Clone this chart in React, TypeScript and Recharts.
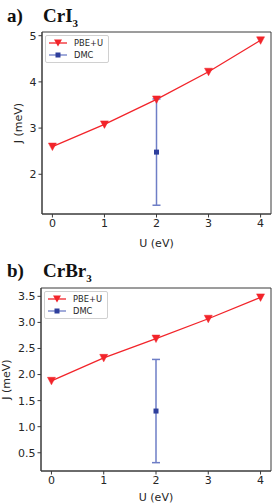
import {
  ComposedChart,
  Line,
  Scatter,
  ErrorBar,
  XAxis,
  YAxis,
  Legend,
  ReferenceArea,
} from 'recharts';

const U_VALUES = [0, 1, 2, 3, 4];
const U_DOMAIN: [number, number] = [-0.2, 4.2];

const CRI3_PBE = [2.6, 3.08, 3.62, 4.22, 4.9];
const CRI3_DMC_U = [2];
const CRI3_DMC = [2.48];
const CRI3_DMC_ERR = [1.15];
const CRI3_Y_TICKS = [2, 3, 4, 5];

const CRBR3_PBE = [1.88, 2.32, 2.69, 3.07, 3.48];
const CRBR3_DMC_U = [2];
const CRBR3_DMC = [1.3];
const CRBR3_DMC_ERR = [0.99];
const CRBR3_Y_TICKS = [0.5, 1.0, 1.5, 2.0, 2.5, 3.0, 3.5];

const RED = '#f2242a';
const BLUE = '#2e3f9c';
const BLUE_LIGHT = '#6e7ec6';
const AXIS = '#3a3a3a';
const TEXT = '#262626';
const FONT = '"DejaVu Sans", sans-serif';

function Triangle(props: any) {
  const { cx, cy } = props;
  if (cx == null || cy == null) return null;
  return (
    <polygon
      points={`${cx - 4},${cy - 3.5} ${cx + 4},${cy - 3.5} ${cx},${cy + 4}`}
      fill={RED}
      stroke={RED}
      strokeWidth={0.5}
    />
  );
}

function Square(props: any) {
  const { cx, cy } = props;
  if (cx == null || cy == null) return null;
  return <rect x={cx - 2.5} y={cy - 2.5} width={5} height={5} fill={BLUE} />;
}

function LegendBox() {
  const row = (label: string, color: string, marker: 'tri' | 'sq') => (
    <div style={{ display: 'flex', alignItems: 'center', height: 12 }}>
      <svg width={20} height={10} style={{ marginRight: 6 }}>
        <line x1={1} y1={5} x2={19} y2={5} stroke={color} strokeWidth={1.3} />
        {marker === 'tri' ? (
          <polygon points="6,1.5 14,1.5 10,8.5" fill={color} />
        ) : (
          <rect x={7.5} y={2.5} width={5} height={5} fill={BLUE} />
        )}
      </svg>
      <span>{label}</span>
    </div>
  );
  return (
    <div
      style={{
        border: '1px solid #d0d0d0',
        borderRadius: 2,
        background: '#fff',
        padding: '1px 5px 1px 2px',
        fontFamily: FONT,
        fontSize: 8.3,
        color: TEXT,
        lineHeight: 1,
      }}
    >
      {row('PBE+U', RED, 'tri')}
      {row('DMC', BLUE_LIGHT, 'sq')}
    </div>
  );
}

interface PanelProps {
  pbe: number[];
  dmcU: number[];
  dmc: number[];
  dmcErr: number[];
  yTicks: number[];
  yDomain: [number, number];
  yWidth: number;
  yLabelOffset: number;
  height: number;
  top: number;
  xHeight: number;
  legendTop: number;
  legendLeft: number;
  fmt?: (v: number) => string;
}

function Panel(p: PanelProps) {
  const pbeData = U_VALUES.map((u, i) => ({ u, j: p.pbe[i] }));
  const dmcData = p.dmcU.map((u, i) => ({ u, j: p.dmc[i], err: p.dmcErr[i] }));
  const tickStyle = { fontSize: 11, fill: TEXT, fontFamily: FONT };
  return (
    <ComposedChart
      width={273}
      height={p.height}
      margin={{ top: p.top, right: 2, left: 0, bottom: 0 }}
    >
      <XAxis
        dataKey="u"
        type="number"
        domain={U_DOMAIN}
        ticks={U_VALUES}
        allowDataOverflow
        height={p.xHeight}
        tick={tickStyle}
        tickSize={3.5}
        tickLine={{ stroke: AXIS }}
        axisLine={{ stroke: AXIS, strokeWidth: 1 }}
        label={{
          value: 'U (eV)',
          position: 'insideBottom',
          offset: 3,
          style: { fontSize: 11, fill: TEXT, fontFamily: FONT },
        }}
      />
      <YAxis
        type="number"
        domain={p.yDomain}
        ticks={p.yTicks}
        allowDataOverflow
        width={p.yWidth}
        tick={tickStyle}
        tickSize={3.5}
        tickLine={{ stroke: AXIS }}
        tickFormatter={p.fmt}
        axisLine={{ stroke: AXIS, strokeWidth: 1 }}
        label={{
          value: 'J (meV)',
          angle: -90,
          position: 'insideLeft',
          offset: p.yLabelOffset,
          style: { fontSize: 11, fill: TEXT, fontFamily: FONT, textAnchor: 'middle' },
        }}
      />
      {/* axes frame (top/right spines) */}
      <ReferenceArea
        x1={U_DOMAIN[0]}
        x2={U_DOMAIN[1]}
        y1={p.yDomain[0]}
        y2={p.yDomain[1]}
        fill="none"
        stroke={AXIS}
        strokeWidth={1}
        ifOverflow="visible"
      />
      <Legend
        layout="vertical"
        verticalAlign="middle"
        align="center"
        wrapperStyle={{ left: p.legendLeft, top: p.legendTop, width: 'auto' }}
        content={() => <LegendBox />}
      />
      <Line
        data={pbeData}
        dataKey="j"
        name="PBE+U"
        stroke={RED}
        strokeWidth={1.3}
        dot={<Triangle />}
        activeDot={false}
        isAnimationActive={false}
      />
      <Scatter
        data={dmcData}
        dataKey="j"
        name="DMC"
        fill={BLUE}
        shape={<Square />}
        isAnimationActive={false}
      >
        <ErrorBar
          dataKey="err"
          direction="y"
          width={4}
          stroke={BLUE_LIGHT}
          strokeWidth={1.5}
          isAnimationActive={false}
        />
      </Scatter>
    </ComposedChart>
  );
}

const titleStyle: React.CSSProperties = {
  position: 'absolute',
  fontFamily: '"Liberation Serif", "Times New Roman", serif',
  fontWeight: 'bold',
  fontSize: 19,
  color: '#111',
  lineHeight: 1,
  whiteSpace: 'nowrap',
};

export default function App() {
  return (
    <div style={{ position: 'absolute', left: 0, top: 0, width: 273, height: 504, background: '#fff' }}>
      <div style={{ ...titleStyle, left: 7, top: 6 }}>a)</div>
      <div style={{ ...titleStyle, left: 43, top: 6 }}>
        CrI<sub style={{ fontSize: 11 }}>3</sub>
      </div>
      <div style={{ position: 'absolute', left: 0, top: 0 }}>
        <Panel
          pbe={CRI3_PBE}
          dmcU={CRI3_DMC_U}
          dmc={CRI3_DMC}
          dmcErr={CRI3_DMC_ERR}
          yTicks={CRI3_Y_TICKS}
          yDomain={[1.14, 5.08]}
          yWidth={42}
          yLabelOffset={18}
          height={250}
          top={32}
          xHeight={36}
          legendTop={35}
          legendLeft={45}
        />
      </div>
      <div style={{ ...titleStyle, left: 7, top: 261 }}>b)</div>
      <div style={{ ...titleStyle, left: 43, top: 261 }}>
        CrBr<sub style={{ fontSize: 11 }}>3</sub>
      </div>
      <div style={{ position: 'absolute', left: 0, top: 252 }}>
        <Panel
          pbe={CRBR3_PBE}
          dmcU={CRBR3_DMC_U}
          dmc={CRBR3_DMC}
          dmcErr={CRBR3_DMC_ERR}
          yTicks={CRBR3_Y_TICKS}
          yDomain={[0.15, 3.66]}
          yWidth={41}
          yLabelOffset={6}
          height={252}
          top={36}
          xHeight={33}
          legendTop={39}
          legendLeft={44}
          fmt={(v) => v.toFixed(1)}
        />
      </div>
    </div>
  );
}
